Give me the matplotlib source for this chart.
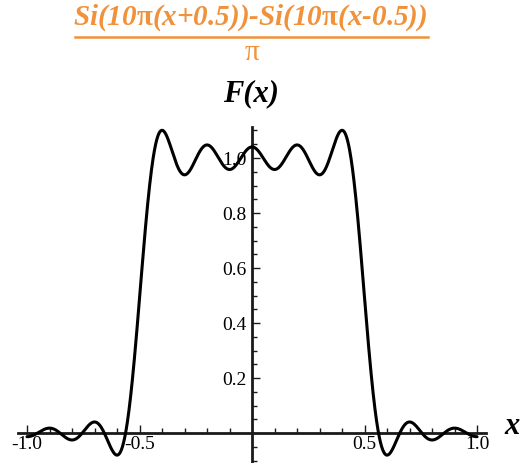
import numpy as np
import matplotlib
matplotlib.use("Agg")
import matplotlib.pyplot as plt
from matplotlib.ticker import FixedLocator

# F(x) = (Si(10*pi*(x+0.5)) - Si(10*pi*(x-0.5))) / pi
omega = 10 * np.pi
half_width = 0.5
x_range = (-1.0, 1.0)

x_major = [-1.0, -0.5, 0.5, 1.0]
x_major_labels = ["-1.0", "-0.5", "0.5", "1.0"]
x_minor = [-0.9, -0.8, -0.7, -0.6, -0.4, -0.3, -0.2, -0.1,
           0.1, 0.2, 0.3, 0.4, 0.6, 0.7, 0.8, 0.9]
y_major = [0.2, 0.4, 0.6, 0.8, 1.0]
y_major_labels = ["0.2", "0.4", "0.6", "0.8", "1.0"]
y_minor = [-0.1, -0.05, 0.05, 0.1, 0.15, 0.25, 0.3, 0.35, 0.45, 0.5,
           0.55, 0.65, 0.7, 0.75, 0.85, 0.9, 0.95, 1.05, 1.1]

title_num = r"Si(10$\mathbf{\pi}$(x+0.5))-Si(10$\mathbf{\pi}$(x-0.5))"
title_den = "π"
orange = "#F1913A"


def sine_integral(z):
    # Si via cumulative trapezoid of sin(t)/t on a fine grid
    t = np.linspace(0, 60, 600001)
    f = np.sinc(t / np.pi)
    cum = np.concatenate([[0], np.cumsum((f[1:] + f[:-1]) / 2 * np.diff(t))])
    return np.sign(z) * np.interp(np.abs(z), t, cum)


x = np.linspace(x_range[0], x_range[1], 2001)
F = (sine_integral(omega * (x + half_width)) - sine_integral(omega * (x - half_width))) / np.pi

plt.rcParams["font.family"] = ["Liberation Serif", "DejaVu Serif"]
plt.rcParams["mathtext.fontset"] = "custom"
plt.rcParams["mathtext.rm"] = "Liberation Serif"
plt.rcParams["mathtext.bf"] = "Liberation Serif:bold"

fig = plt.figure(figsize=(5.23, 4.63), dpi=100)
ax = fig.add_axes([0, 0, 1, 1])
ax.set_xlim(-1.12, 1.204)
ax.set_ylim(-0.109, 1.5745)
ax.patch.set_alpha(0)

ax.plot(x, F, color="black", lw=2.2, solid_capstyle="round", zorder=3)

for s in ["top", "right"]:
    ax.spines[s].set_visible(False)
ax.spines["bottom"].set_position(("data", 0))
ax.spines["left"].set_position(("data", 0))
ax.spines["bottom"].set_bounds(-1.04, 1.04)
ax.spines["left"].set_bounds(-0.109, 1.113)
for s in ["bottom", "left"]:
    ax.spines[s].set_linewidth(2.0)
    ax.spines[s].set_color("#1a1a1a")

ax.xaxis.set_major_locator(FixedLocator(x_major))
ax.xaxis.set_minor_locator(FixedLocator(x_minor))
ax.set_xticklabels(x_major_labels)
ax.yaxis.set_major_locator(FixedLocator(y_major))
ax.yaxis.set_minor_locator(FixedLocator(y_minor))
ax.set_yticklabels(y_major_labels)

ax.tick_params(which="major", direction="in", length=6, width=1.0,
               color="#1a1a1a", labelsize=14)
ax.tick_params(which="minor", direction="in", length=3.5, width=1.0,
               color="#1a1a1a")
ax.tick_params(axis="x", pad=2)
ax.tick_params(axis="y", pad=4)

fig.text(0.479, 1 - 18 / 463, title_num, color=orange, fontsize=21,
         fontweight="bold", style="italic", ha="center", va="center")
fig.add_artist(plt.Line2D([75 / 523, 428 / 523], [1 - 37 / 463, 1 - 37 / 463],
                          color=orange, lw=1.8))
fig.text(0.482, 1 - 53 / 463, title_den, color=orange, fontsize=21,
         ha="center", va="center")
fig.text(0.480, 1 - 94 / 463, "F(x)", fontsize=22, fontweight="bold",
         style="italic", ha="center", va="center")
fig.text(512 / 523, 1 - 427 / 463, "x", fontsize=22, fontweight="bold",
         style="italic", ha="center", va="center")

fig.savefig("out.png", dpi=100)
